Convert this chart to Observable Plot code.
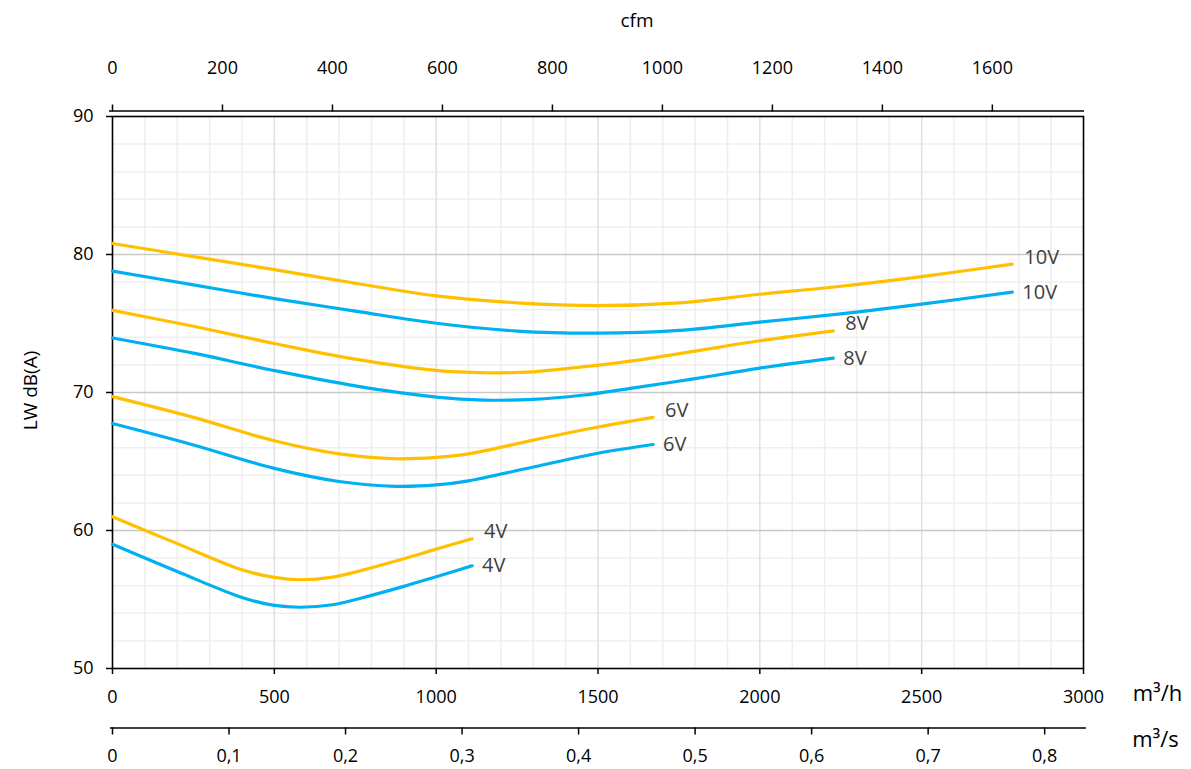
<!DOCTYPE html>
<html><head><meta charset="utf-8">
<script src="https://cdn.jsdelivr.net/npm/d3@7"></script>
<script src="https://cdn.jsdelivr.net/npm/@observablehq/plot@0.6"></script>
<style>html,body{margin:0;padding:0;background:#fff} svg{display:block}</style>
</head><body><div id="chart"></div>
<script>
// ---- data ----
const flow10 = [0, 250, 500, 750, 1000, 1250, 1500, 1750, 2000, 2250, 2500, 2780];
const lw10Yellow = [80.8, 79.85, 78.9, 77.92, 77.0, 76.5, 76.3, 76.5, 77.12, 77.7, 78.4, 79.3];
const lw10Blue   = [78.8, 77.8, 76.8, 75.9, 75.02, 74.45, 74.3, 74.5, 75.1, 75.7, 76.4, 77.27];

const flow8 = [0, 250, 500, 750, 1000, 1150, 1300, 1450, 1600, 1800, 2000, 2227];
const lw8Yellow = [75.95, 74.8, 73.55, 72.42, 71.6, 71.43, 71.5, 71.85, 72.27, 73.0, 73.75, 74.47];
const lw8Blue   = [73.95, 72.85, 71.59, 70.48, 69.67, 69.45, 69.5, 69.8, 70.3, 71.0, 71.77, 72.49];

const flow6 = [0, 250, 500, 700, 875, 1000, 1100, 1300, 1500, 1670];
const lw6Yellow = [69.7, 68.2, 66.5, 65.55, 65.2, 65.3, 65.55, 66.55, 67.5, 68.2];
const lw6Blue   = [67.75, 66.2, 64.5, 63.55, 63.2, 63.3, 63.6, 64.6, 65.6, 66.23];

const flow4 = [0, 200, 400, 500, 580, 680, 800, 900, 1000, 1111];
const lw4Yellow = [61.0, 59.05, 57.15, 56.6, 56.43, 56.62, 57.3, 57.95, 58.65, 59.4];
const lw4Blue   = [59.0, 57.03, 55.15, 54.57, 54.44, 54.62, 55.3, 55.95, 56.65, 57.44];

const m3hTicks = [0, 500, 1000, 1500, 2000, 2500, 3000];
const dbTicks = [50, 60, 70, 80, 90];
const cfmTicks = [0, 200, 400, 600, 800, 1000, 1200, 1400, 1600];
const m3sTicks = [0, 0.1, 0.2, 0.3, 0.4, 0.5, 0.6, 0.7, 0.8];
const CFM_TO_M3H = 1.699;
const M3S_TO_M3H = 3600;

// ---- build tables ----
const curves = [
  {v: "10V", kind: "upper", flow: flow10, lw: lw10Yellow},
  {v: "10V", kind: "lower", flow: flow10, lw: lw10Blue},
  {v: "8V",  kind: "upper", flow: flow8,  lw: lw8Yellow},
  {v: "8V",  kind: "lower", flow: flow8,  lw: lw8Blue},
  {v: "6V",  kind: "upper", flow: flow6,  lw: lw6Yellow},
  {v: "6V",  kind: "lower", flow: flow6,  lw: lw6Blue},
  {v: "4V",  kind: "upper", flow: flow4,  lw: lw4Yellow},
  {v: "4V",  kind: "lower", flow: flow4,  lw: lw4Blue}
];
const rows = curves.flatMap(c => c.flow.map((f, i) => ({flow: f, lw: c.lw[i], key: c.v + c.kind, kind: c.kind})));
const ends = curves.map(c => ({flow: c.flow[c.flow.length - 1], lw: c.lw[c.lw.length - 1], text: c.v, kind: c.kind}));

const font = "'Open Sans', sans-serif";
const fmtComma = d => {
  const v = Math.round(d / M3S_TO_M3H * 10) / 10;
  return v === 0 ? "0" : v.toFixed(1).replace(".", ",");
};

const chart = Plot.plot({
  width: 1191, height: 769,
  marginLeft: 112, marginRight: 108, marginTop: 116, marginBottom: 101,
  style: {fontFamily: font, fontSize: "18px", color: "black", background: "white"},
  x: {domain: [0, 3000], label: null},
  y: {domain: [50, 90], label: null},
  color: {domain: ["upper", "lower"], range: ["#FFC000", "#00B0F0"]},
  marks: [
    Plot.gridX(d3.range(100, 3000, 100).filter(v => v % 500), {stroke: "#f0eded", strokeOpacity: 1, strokeWidth: 1.5}),
    Plot.gridY(d3.range(52, 90, 2).filter(v => v % 10), {stroke: "#efefef", strokeOpacity: 1, strokeWidth: 1.5}),
    Plot.gridX(m3hTicks.filter(v => v > 0 && v < 3000), {stroke: "#e4dfdf", strokeOpacity: 1, strokeWidth: 1.5}),
    Plot.gridY(dbTicks.filter(v => v > 50 && v < 90), {stroke: "#c9c9c9", strokeOpacity: 1, strokeWidth: 1.5}),
    Plot.frame({stroke: "black", strokeWidth: 1.6}),
    // y axis
    Plot.axisY(dbTicks, {anchor: "left", tickSize: 6, tickPadding: 13, fontSize: 18, label: null, stroke: "black", strokeWidth: 1.5}),
    // m3/h axis
    Plot.axisX(m3hTicks, {anchor: "bottom", tickSize: 6, tickPadding: 16, fontSize: 18, label: null, tickFormat: d => String(d), stroke: "black", strokeWidth: 1.5}),
    // m3/s axis
    Plot.ruleY([50], {dy: 59.5, insetLeft: -2, insetRight: -3, stroke: "black", strokeWidth: 1.5}),
    Plot.axisX(m3sTicks.map(v => v * M3S_TO_M3H), {anchor: "bottom", dy: 59.5, tickSize: 7, tickPadding: 14, fontSize: 18, label: null, tickFormat: fmtComma, stroke: "black", strokeWidth: 1.5}),
    // cfm axis
    Plot.ruleY([90], {dy: -5.5, insetLeft: -3, insetRight: -1, stroke: "black", strokeWidth: 1.5}),
    Plot.axisX(cfmTicks.map(v => v * CFM_TO_M3H), {anchor: "top", dy: -5.5, tickSize: 7, tickPadding: 30, fontSize: 18, label: null, tickFormat: d => String(Math.round(d / CFM_TO_M3H)), stroke: "black", strokeWidth: 1.5}),
    // curves
    Plot.line(rows, {x: "flow", y: "lw", z: "key", stroke: "kind", strokeWidth: 3.2, curve: "catmull-rom"}),
    // end labels
    Plot.text(ends.filter(d => d.kind === "upper"), {x: "flow", y: "lw", text: "text", textAnchor: "start", dx: 12, dy: -7, fill: "#404040", fontSize: 20}),
    Plot.text(ends.filter(d => d.kind === "lower"), {x: "flow", y: "lw", text: "text", textAnchor: "start", dx: 10, dy: 0, fill: "#404040", fontSize: 20}),
    // titles
    Plot.text(["cfm"], {frameAnchor: "top", dx: 39, dy: -96, lineAnchor: "middle", fontSize: 19, fill: "black"}),
    Plot.text(["m³/h"], {frameAnchor: "bottom-right", dx: 74, dy: 25, lineAnchor: "middle", textAnchor: "middle", fontSize: 22, fill: "black"}),
    Plot.text(["m³/s"], {frameAnchor: "bottom-right", dx: 72, dy: 71, lineAnchor: "middle", textAnchor: "middle", fontSize: 22, fill: "black"}),
    Plot.text(["LW dB(A)"], {frameAnchor: "left", dx: -82, dy: -2, rotate: -90, lineAnchor: "middle", textAnchor: "middle", fontSize: 19, fill: "black"})
  ]
});
document.getElementById("chart").appendChild(chart);
</script>
</body></html>
